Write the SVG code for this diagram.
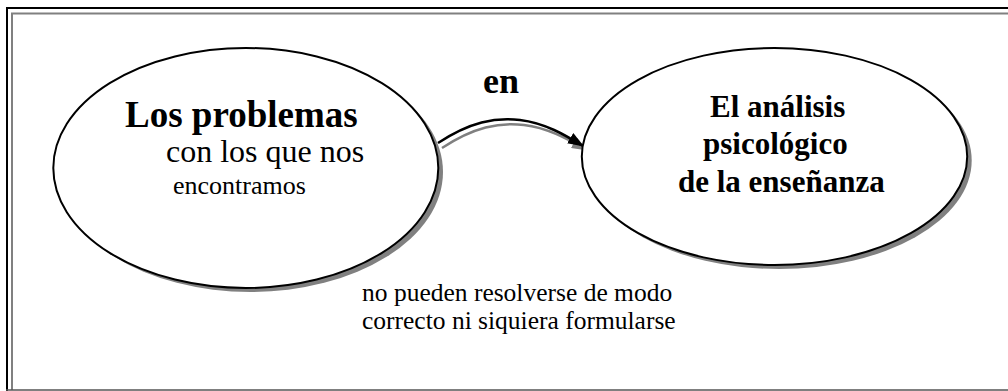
<svg xmlns="http://www.w3.org/2000/svg" width="1008" height="391" viewBox="0 0 1008 391">
<style>
  .t { font-family: "Liberation Serif", "Times New Roman", serif; fill: #000; }
  .b { font-weight: bold; }
  .node { fill: #fff; stroke: #000; stroke-width: 2; }
  .shadow { fill: #808080; stroke: none; }
</style>
<defs>
  <marker id="ah" markerWidth="16" markerHeight="12" refX="15" refY="6" orient="auto" markerUnits="userSpaceOnUse" viewBox="0 0 16 12">
    <path d="M0,0 L16,6 L0,12 Z" fill="#000"/>
  </marker>
  <marker id="ahg" markerWidth="16" markerHeight="12" refX="15" refY="6" orient="auto" markerUnits="userSpaceOnUse" viewBox="0 0 16 12">
    <path d="M0,0 L16,6 L0,12 Z" fill="#808080"/>
  </marker>
</defs>
<rect x="0" y="0" width="1008" height="391" fill="#fff"/>
<g id="frame">
  <path d="M7,391 L7,8 L1010,8" fill="none" stroke="#000" stroke-width="2"/>
  <path d="M12,390 L12,13.5 L1010,13.5" fill="none" stroke="#808080" stroke-width="2"/>
  <line x1="6" y1="390" x2="1010" y2="390" stroke="#555" stroke-width="1.5"/>
</g>
<g id="connectors">
  <path d="M442,148 C474,127 499,122 524,125 S569,140 587,150" fill="none" stroke="#808080" stroke-width="2.5" marker-end="url(#ahg)"/>
  <path d="M438,143 C470,122 495,117 520,120 S565,135 583,146" fill="none" stroke="#000" stroke-width="2.5" marker-end="url(#ah)"/>
  <text class="t b" x="483" y="93" font-size="36">en</text>
</g>
<g id="node-problemas">
  <ellipse class="shadow" cx="250.5" cy="172" rx="192.5" ry="120"/>
  <ellipse class="node" cx="245.8" cy="168" rx="192.5" ry="120"/>
  <text class="t b" x="125" y="127" font-size="37">Los problemas</text>
  <text class="t" x="166" y="162" font-size="32">con los que nos</text>
  <text class="t" x="173" y="194" font-size="26">encontramos</text>
</g>
<g id="node-analisis">
  <ellipse class="shadow" cx="779" cy="160.5" rx="192.7" ry="108.5"/>
  <ellipse class="node" cx="774.5" cy="156.5" rx="192.7" ry="108.5"/>
  <text class="t b" x="710" y="117" font-size="31">El análisis</text>
  <text class="t b" x="703" y="154" font-size="31">psicológico</text>
  <text class="t b" x="678" y="192" font-size="31">de la enseñanza</text>
</g>
<g id="note">
  <text class="t" x="362" y="301" font-size="25.5">no pueden resolverse de modo</text>
  <text class="t" x="362" y="329" font-size="25.5">correcto ni siquiera formularse</text>
</g>
</svg>
